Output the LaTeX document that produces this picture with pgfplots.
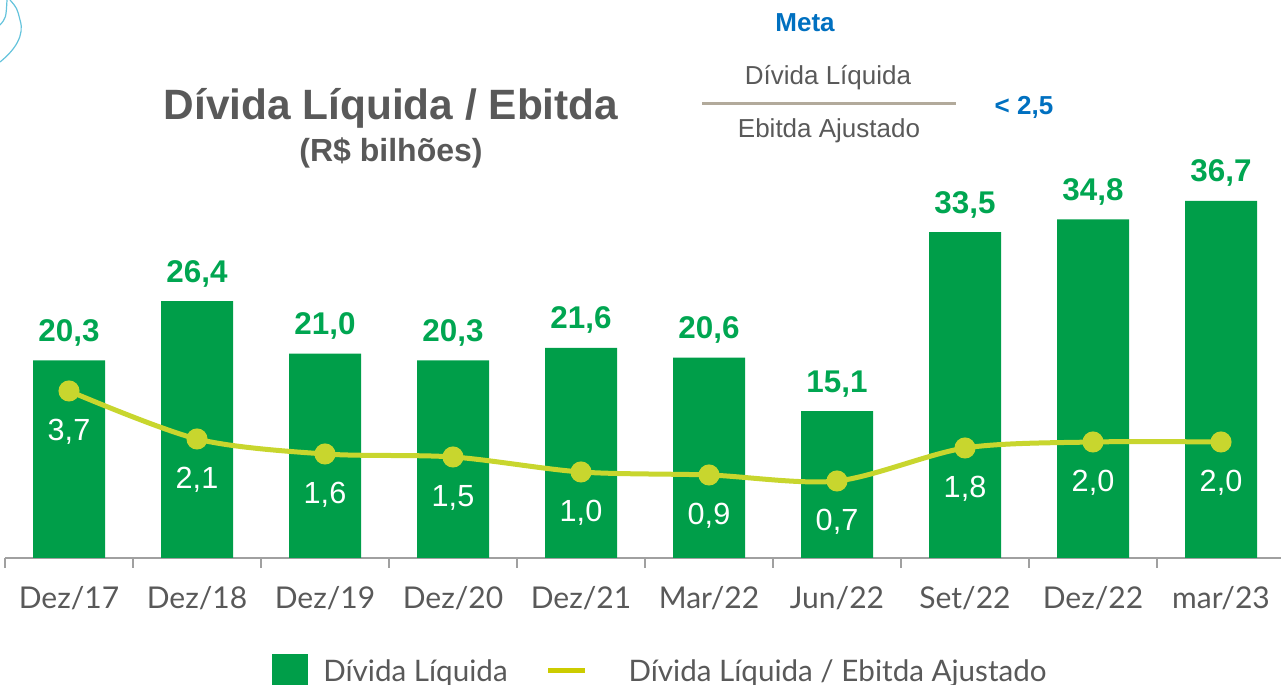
\documentclass[border=0pt]{standalone}
\usepackage{pgfplots}
\pgfplotsset{compat=1.18}
\usepackage{pgfplotstable}
\usepackage{fontspec}
\setmainfont{Liberation Sans}
\newfontfamily\lato{Lato}

\definecolor{barGreen}{RGB}{0,158,73}
\definecolor{labGreen}{RGB}{0,166,81}
\definecolor{lineYel}{RGB}{200,214,46}
\definecolor{legYel}{RGB}{204,204,0}
\definecolor{txtGray}{RGB}{89,89,89}
\definecolor{axGray}{RGB}{160,160,160}
\definecolor{metaBlue}{RGB}{0,112,192}
\definecolor{fracLine}{RGB}{178,170,155}
\definecolor{decoBlue}{RGB}{100,195,220}

% Divida liquida (R$ bi)
\pgfplotstableread{
x y
0 20.3
1 26.4
2 21.0
3 20.3
4 21.6
5 20.6
6 15.1
7 33.5
8 34.8
9 36.7
}\divida

% Divida liquida / Ebitda ajustado
\pgfplotstableread{
x r
0 3.7
1 2.1
2 1.6
3 1.5
4 1.0
5 0.9
6 0.7
7 1.8
8 2.0
9 2.0
}\ratio

\begin{document}
\begin{tikzpicture}[x=0.5pt,y=0.5pt]
\path[use as bounding box] (0,0) rectangle (1281,685);

% decoracao do canto
\draw[decoBlue, line width=0.6pt] (0,623) .. controls (15,635) and (25,650) .. (20,665) .. controls (17,677) .. (10,685);
\draw[decoBlue, line width=0.6pt] (0,660) .. controls (6,667) .. (7,685);

\begin{axis}[
    at={(2.5pt,63.5pt)}, anchor=south west,
    scale only axis, width=638pt, height=199pt,
    xmin=-0.5, xmax=9.46875, ymin=0, ymax=40.9,
    axis x line*=bottom, axis y line=none,
    x axis line style={-, axGray, line width=1pt},
    xtick={0,...,9},
    xticklabels={Dez/17,Dez/18,Dez/19,Dez/20,Dez/21,Mar/22,Jun/22,Set/22,Dez/22,mar/23},
    major tick length=0pt,
    extra x ticks={-0.5,0.5,...,8.5},
    extra x tick labels={},
    extra x tick style={major tick length=5pt, tick align=outside,
        tick style={axGray, line width=1pt}},
    xticklabel style={font=\lato\fontsize{15}{18}\selectfont, text=txtGray,
        anchor=base, yshift=-25.5pt},
    /pgf/number format/use comma,
    /pgf/number format/fixed,
    /pgf/number format/fixed zerofill,
    /pgf/number format/precision=1,
    /pgf/number format/assume math mode=true,
    legend columns=2,
    legend cell align=left,
    legend style={draw=none, fill=none,
        at={(axis description cs:0.2045,-0.2864)}, anchor=west,
        font=\lato\fontsize{14.8}{17}\selectfont, text=txtGray,
        nodes={inner sep=0pt},
        /tikz/every even column/.append style={column sep=19pt}},
]
\addplot[ybar, bar width=36pt, fill=barGreen, draw=none,
    nodes near coords,
    nodes near coords style={font=\bfseries\fontsize{15.7}{18}\selectfont,
        text=labGreen, anchor=base, yshift=9.5pt},
    legend image code/.code={
        \fill[barGreen] (0pt,-8.5pt) rectangle (18pt,9pt);
        \path (25.5pt,0pt);}
    ] table[x=x,y=y]{\divida};
\addlegendentry{Dívida Líquida}
\addlegendimage{legend image code/.code={
        \draw[legYel, line width=2.5pt] (0pt,1pt) -- (18.5pt,1pt);
        \path (40pt,0pt);}}
\addlegendentry{Dívida Líquida / Ebitda Ajustado}
\end{axis}

\begin{axis}[
    at={(2.5pt,63.5pt)}, anchor=south west,
    scale only axis, width=638pt, height=199pt,
    xmin=-0.5, xmax=9.46875, ymin=-1.867, ymax=11.4,
    hide axis,
    /pgf/number format/use comma,
    /pgf/number format/fixed,
    /pgf/number format/fixed zerofill,
    /pgf/number format/precision=1,
    /pgf/number format/assume math mode=true,
]
\addplot[lineYel, line width=2.5pt, smooth, tension=0.5,
    mark=*, mark size=4pt, mark options={fill=lineYel, draw=none},
    nodes near coords,
    nodes near coords style={font=\fontsize{15.3}{18}\selectfont,
        text=white, anchor=base, yshift=-25pt}
    ] table[x=x,y=r]{\ratio};
\end{axis}

% titulo
\node[anchor=base, font=\bfseries\fontsize{21.2}{25}\selectfont, text=txtGray] at (391,565) {Dívida Líquida / Ebitda};
\node[anchor=base, font=\bfseries\fontsize{16}{19}\selectfont, text=txtGray] at (391,523) {(R\$ bilhões)};

% meta
\node[anchor=base, font=\bfseries\fontsize{13}{15}\selectfont, text=metaBlue] at (805,653) {Meta};
\node[anchor=base, font=\fontsize{13}{15}\selectfont, text=txtGray] at (828,600) {Dívida Líquida};
\draw[fracLine, line width=1.5pt] (702,581) -- (956,581);
\node[anchor=base, font=\fontsize{13}{15}\selectfont, text=txtGray] at (829,547) {Ebitda Ajustado};
\node[anchor=base, font=\bfseries\fontsize{13}{15}\selectfont, text=metaBlue] at (1024,570) {< 2,5};
\end{tikzpicture}
\end{document}
